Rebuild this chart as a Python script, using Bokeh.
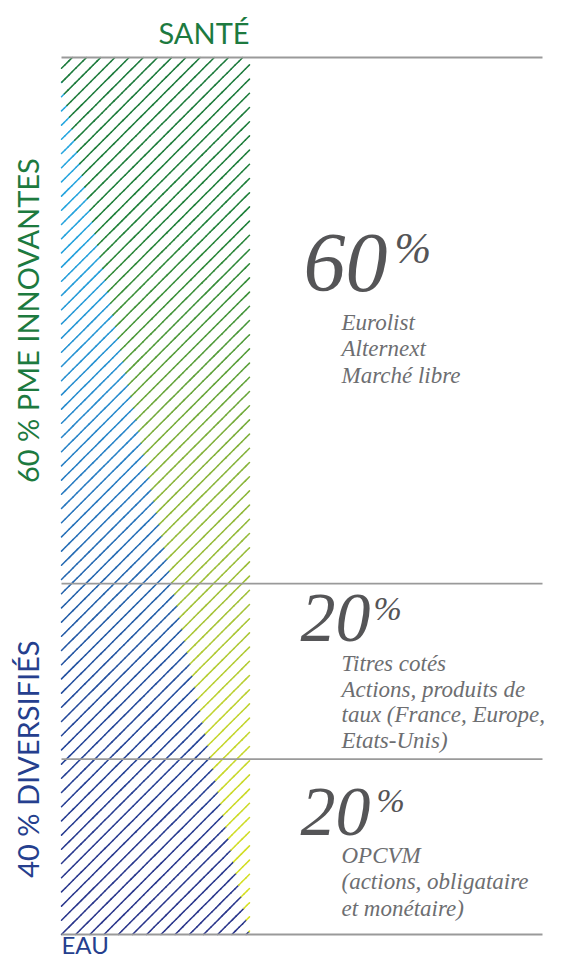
import math
import numpy as np
from bokeh.plotting import figure
from bokeh.models import Range1d, ColumnDataSource
from bokeh.core.properties import value
from bokeh.embed import file_html
from bokeh.resources import INLINE

# ---------------- data (bottom -> top) ----------------
segment_values = [20, 20, 60]
segment_pct_labels = ["20", "20", "60"]
segment_details = [
    ["OPCVM", "(actions, obligataire", "et monétaire)"],
    ["Titres cotés", "Actions, produits de", "taux (France, Europe,", "Etats-Unis)"],
    ["Eurolist", "Alternext", "Marché libre"],
]
group_labels = ["40 % DIVERSIFIÉS", "60 % PME INNOVANTES"]
group_values = [40, 60]
top_label = "SANTÉ"
bottom_label = "EAU"

# ---------------- layout / style ----------------
W, H = 547, 958
BAR_X0, BAR_X1 = 61, 249
RULE_X1 = 542
BAR_TOP_PX, BAR_BOT_PX = 57, 934
K = 0.35   # renderer places the alphabetic baseline ~0.35em below the anchor

total = sum(segment_values)
ppu = (BAR_BOT_PX - BAR_TOP_PX) / total          # pixels per percent


def py(ypx):
    """canvas pixel y -> data y"""
    return (BAR_BOT_PX - ypx) / ppu


def base(ypx, size):
    """data y of anchor so that the text baseline lands on canvas pixel ypx"""
    return py(ypx - K * size)


GREEN_TXT = "#1d7a3f"
BLUE_TXT = "#253f8e"
NUM_COL = "#555557"
SUB_COL = "#6d6e71"

p = figure(width=W, height=H, output_backend="svg", toolbar_location=None,
           x_range=Range1d(0, W), y_range=Range1d(py(H), py(0)),
           min_border=0)
p.axis.visible = False
p.grid.visible = False
p.outline_line_color = None
p.background_fill_color = "white"
p.border_fill_color = "white"

# ---------------- stacked bar (hatched with gradient) ----------------
bottoms = np.concatenate([[0], np.cumsum(segment_values)[:-1]])
tops = np.cumsum(segment_values)
p.quad(left=BAR_X0, right=BAR_X1, bottom=bottoms, top=tops,
       fill_color=None, line_color=None)

blue_stops_y = [57, 250, 400, 500, 600, 720, 850, 934]
blue_stops = ["#28a9e1", "#26a2dc", "#288cce", "#2878bf", "#2461aa", "#25489a", "#2a3a8f", "#2b368b"]
green_stops_y = [57, 220, 330, 450, 600, 720, 850, 934]
green_stops = ["#1c7a3c", "#1f803a", "#4a983a", "#84b23b", "#a2c139", "#c3d530", "#d1dd25", "#d8e021"]


def hex2rgb(h):
    return [int(h[i:i + 2], 16) for i in (1, 3, 5)]


def grad(stops_y, stops, ypx):
    rgb = np.array([hex2rgb(s) for s in stops])
    return "#%02x%02x%02x" % tuple(int(round(np.interp(ypx, stops_y, rgb[:, c]))) for c in range(3))


top_px = BAR_BOT_PX - tops[-1] * ppu
bot_px = BAR_BOT_PX - bottoms[0] * ppu
BX0, BY0, BX1, BY1 = 61, 80, 249, 934
s = (BX1 - BX0) / (BY1 - BY0)
spacing = 14.2
c0 = bot_px + BAR_X0
kmin = math.ceil((top_px + BAR_X0 - c0) / spacing)
kmax = math.floor((bot_px + BAR_X1 - c0) / spacing)
hx0, hy0, hx1, hy1, hcol = [], [], [], [], []
for k in range(kmin, kmax + 1):
    c = c0 + k * spacing
    xa = max(BAR_X0, c - bot_px)
    xb = min(BAR_X1, c - top_px)
    if xb - xa < 0.3:
        continue
    xi = (BX0 + (c - BY0) * s) / (1 + s)
    if xi <= xa:
        parts = [(xa, xb, "g")]
    elif xi >= xb:
        parts = [(xa, xb, "b")]
    else:
        parts = [(xa, xi, "b"), (xi, xb, "g")]
    for (a, b, side) in parts:
        n = max(1, int(math.ceil((b - a) / 4.0)))
        xs = np.linspace(a, b, n + 1)
        for i in range(n):
            x0_, x1_ = xs[i], xs[i + 1]
            ym = c - 0.5 * (x0_ + x1_)
            col = grad(blue_stops_y, blue_stops, ym) if side == "b" else grad(green_stops_y, green_stops, ym)
            hx0.append(x0_); hx1.append(x1_)
            hy0.append(py(c - x0_)); hy1.append(py(c - x1_))
            hcol.append(col)

p.segment(x0="x0", y0="y0", x1="x1", y1="y1", line_color="c", line_width=1.5, line_cap="round",
          source=ColumnDataSource(dict(x0=hx0, y0=hy0, x1=hx1, y1=hy1, c=hcol)))

# ---------------- horizontal rules ----------------
rule_y = list(bottoms[:1]) + list(tops)
p.segment(x0=[BAR_X0] * len(rule_y), x1=[RULE_X1] * len(rule_y), y0=rule_y, y1=rule_y,
          line_color="#9a9a9a", line_width=1.8)

# ---------------- value blocks ----------------
num_x = [300, 300, 303]
num_size = [70, 70, 84]
num_base_off = [77, 59, 235]
pct_x = [376, 373, 394]
pct_size = [34, 34, 44]
pct_base_off = [53, 37, 206]
sub_x = 341
sub_size = 23
sub_first_off = [104, 88, 273]
sub_step = [26.5, 25.5, 26.5]

serif = value("Liberation Serif")
for i, top in enumerate(tops):
    top_pix = BAR_BOT_PX - top * ppu
    p.text(x=[num_x[i]], y=[base(top_pix + num_base_off[i], num_size[i])], text=[segment_pct_labels[i]],
           text_font=serif, text_font_style="italic", text_font_size=f"{num_size[i]}px",
           text_color=NUM_COL, text_baseline="alphabetic", text_align="left")
    p.text(x=[pct_x[i]], y=[base(top_pix + pct_base_off[i], pct_size[i])], text=["%"],
           text_font=serif, text_font_style="italic", text_font_size=f"{pct_size[i]}px",
           text_color=NUM_COL, text_baseline="alphabetic", text_align="left")
    lines = segment_details[i]
    p.text(x=[sub_x] * len(lines),
           y=[base(top_pix + sub_first_off[i] + j * sub_step[i], sub_size) for j in range(len(lines))],
           text=lines, text_font=serif, text_font_style="italic", text_font_size=f"{sub_size}px",
           text_color=SUB_COL, text_baseline="alphabetic", text_align="left")

# ---------------- group labels (rotated) ----------------
g_bottoms = np.concatenate([[0], np.cumsum(group_values)[:-1]])
g_centers = g_bottoms + np.array(group_values) / 2
sans = value("Lato")
SANS_SIZE = 29
for lab, cy, col in zip(group_labels, g_centers, [BLUE_TXT, GREEN_TXT]):
    p.text(x=[37 - K * SANS_SIZE], y=[cy], text=[lab], angle=math.pi / 2, text_font=sans,
           text_font_size=f"{SANS_SIZE}px", text_color=col, text_align="center",
           text_baseline="alphabetic")

p.text(x=[BAR_X1], y=[base(42, SANS_SIZE)], text=[top_label], text_font=sans,
       text_font_size=f"{SANS_SIZE}px", text_color=GREEN_TXT, text_align="right", text_baseline="alphabetic")
p.text(x=[BAR_X0], y=[base(952, 24)], text=[bottom_label], text_font=sans,
       text_font_size="24px", text_color=BLUE_TXT, text_align="left", text_baseline="alphabetic")

open("out.html", "w").write(file_html(p, INLINE))
